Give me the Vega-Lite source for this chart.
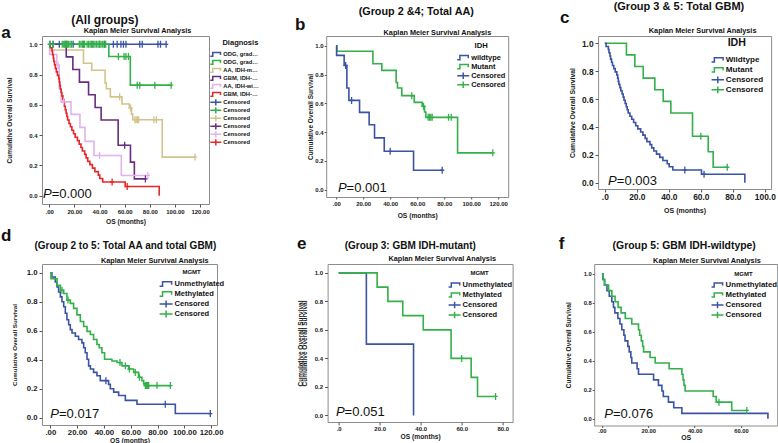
{
"$schema": "https://vega.github.io/schema/vega-lite/v6.json",
"background": "white",
"padding": 0,
"config": {
 "font": "Liberation Sans",
 "view": {"stroke": "#8c8c8c", "strokeWidth": 1},
 "axis": {"grid": false, "domain": false, "tickColor": "#555", "labelColor": "#1a1a1a", "titleColor": "#1a1a1a", "labelFontWeight": "bold", "titleFontWeight": "bold", "labelFont": "Liberation Sans", "titleFont": "Liberation Sans", "labelFlush": false, "labelOverlap": false, "tickCount": 20},
 "legend": {"orient": "none", "padding": 0, "rowPadding": 0, "labelOffset": 1, "labelFontWeight": "bold", "titleFontWeight": "bold", "labelColor": "#111", "titleColor": "#111", "titleAnchor": "middle", "symbolStrokeWidth": 1.5, "labelFont": "Liberation Sans", "titleFont": "Liberation Sans"},
 "text": {"font": "Liberation Sans"}
},
"datasets": {
 "km": [
  {"g":"ODG2","t":0,"s":1},{"g":"ODG2","t":93,"s":1},
  {"g":"ODG3","t":0,"s":1},{"g":"ODG3","t":47.4,"s":0.919},{"g":"ODG3","t":64.5,"s":0.73},{"g":"ODG3","t":97,"s":0.73},
  {"g":"AAmut","t":0,"s":1},{"g":"AAmut","t":0.5,"s":0.962},{"g":"AAmut","t":27.2,"s":0.875},{"g":"AAmut","t":33.8,"s":0.829},{"g":"AAmut","t":44.4,"s":0.745},{"g":"AAmut","t":45.4,"s":0.706},{"g":"AAmut","t":48.6,"s":0.653},{"g":"AAmut","t":57.8,"s":0.606},{"g":"AAmut","t":63.7,"s":0.579},{"g":"AAmut","t":65.4,"s":0.539},{"g":"AAmut","t":66.4,"s":0.502},{"g":"AAmut","t":89.9,"s":0.255},{"g":"AAmut","t":116,"s":0.255},
  {"g":"GBMmut","t":0,"s":1},{"g":"GBMmut","t":13.5,"s":0.917},{"g":"GBMmut","t":18.75,"s":0.833},{"g":"GBMmut","t":24,"s":0.75},{"g":"GBMmut","t":31.25,"s":0.667},{"g":"GBMmut","t":36.5,"s":0.583},{"g":"GBMmut","t":41.25,"s":0.5},{"g":"GBMmut","t":54.8,"s":0.333},{"g":"GBMmut","t":64.6,"s":0.222},{"g":"GBMmut","t":67.7,"s":0.111},{"g":"GBMmut","t":76.5,"s":0.111},
  {"g":"AAwt","t":0,"s":1},{"g":"AAwt","t":0.3,"s":0.933},{"g":"AAwt","t":5.9,"s":0.863},{"g":"AAwt","t":7.9,"s":0.706},{"g":"AAwt","t":9.4,"s":0.62},{"g":"AAwt","t":17.3,"s":0.537},{"g":"AAwt","t":24.4,"s":0.451},{"g":"AAwt","t":28.4,"s":0.359},{"g":"AAwt","t":35.6,"s":0.266},{"g":"AAwt","t":57.3,"s":0.134},{"g":"AAwt","t":78.5,"s":0.134},
  {"g":"GBMwt","t":0,"s":1},{"g":"GBMwt","t":0.8,"s":0.977},{"g":"GBMwt","t":2.2,"s":0.955},{"g":"GBMwt","t":2.6,"s":0.932},{"g":"GBMwt","t":3.2,"s":0.909},{"g":"GBMwt","t":3.6,"s":0.886},{"g":"GBMwt","t":4.2,"s":0.864},{"g":"GBMwt","t":4.8,"s":0.841},{"g":"GBMwt","t":5.6,"s":0.818},{"g":"GBMwt","t":6.5,"s":0.795},{"g":"GBMwt","t":7.5,"s":0.773},{"g":"GBMwt","t":8,"s":0.75},{"g":"GBMwt","t":8.4,"s":0.727},{"g":"GBMwt","t":8.8,"s":0.705},{"g":"GBMwt","t":9.4,"s":0.682},{"g":"GBMwt","t":10,"s":0.659},{"g":"GBMwt","t":10.8,"s":0.636},{"g":"GBMwt","t":11.5,"s":0.614},{"g":"GBMwt","t":12,"s":0.591},{"g":"GBMwt","t":12.7,"s":0.568},{"g":"GBMwt","t":13.4,"s":0.545},{"g":"GBMwt","t":14,"s":0.523},{"g":"GBMwt","t":14.6,"s":0.5},{"g":"GBMwt","t":15.7,"s":0.477},{"g":"GBMwt","t":16.8,"s":0.455},{"g":"GBMwt","t":18,"s":0.432},{"g":"GBMwt","t":19.3,"s":0.409},{"g":"GBMwt","t":20.6,"s":0.386},{"g":"GBMwt","t":22.4,"s":0.364},{"g":"GBMwt","t":23.8,"s":0.341},{"g":"GBMwt","t":25.2,"s":0.318},{"g":"GBMwt","t":26.3,"s":0.295},{"g":"GBMwt","t":28.2,"s":0.273},{"g":"GBMwt","t":29.3,"s":0.25},{"g":"GBMwt","t":30.6,"s":0.227},{"g":"GBMwt","t":32.3,"s":0.205},{"g":"GBMwt","t":34.3,"s":0.182},{"g":"GBMwt","t":36.3,"s":0.159},{"g":"GBMwt","t":39,"s":0.136},{"g":"GBMwt","t":40.2,"s":0.114},{"g":"GBMwt","t":42.5,"s":0.091},{"g":"GBMwt","t":60.4,"s":0.061},{"g":"GBMwt","t":87.5,"s":0},
  {"g":"dU","t":0,"s":1},{"g":"dU","t":1.2,"s":0.971},{"g":"dU","t":3.7,"s":0.937},{"g":"dU","t":5,"s":0.902},{"g":"dU","t":6.2,"s":0.868},{"g":"dU","t":7.5,"s":0.834},{"g":"dU","t":8.7,"s":0.8},{"g":"dU","t":10,"s":0.766},{"g":"dU","t":11.2,"s":0.721},{"g":"dU","t":12.4,"s":0.676},{"g":"dU","t":13.7,"s":0.642},{"g":"dU","t":14.9,"s":0.608},{"g":"dU","t":16.2,"s":0.585},{"g":"dU","t":18.7,"s":0.562},{"g":"dU","t":21.1,"s":0.54},{"g":"dU","t":23.6,"s":0.517},{"g":"dU","t":24.9,"s":0.483},{"g":"dU","t":26.1,"s":0.449},{"g":"dU","t":27.4,"s":0.404},{"g":"dU","t":28.6,"s":0.358},{"g":"dU","t":29.9,"s":0.336},{"g":"dU","t":32.3,"s":0.313},{"g":"dU","t":34.8,"s":0.29},{"g":"dU","t":37.3,"s":0.256},{"g":"dU","t":43.5,"s":0.23},{"g":"dU","t":44.8,"s":0.2},{"g":"dU","t":47.3,"s":0.177},{"g":"dU","t":51,"s":0.154},{"g":"dU","t":56,"s":0.12},{"g":"dU","t":64.7,"s":0.093},{"g":"dU","t":93.3,"s":0.029},{"g":"dU","t":119.4,"s":0.029},
  {"g":"dM","t":0,"s":1},{"g":"dM","t":0.5,"s":0.959},{"g":"dM","t":5,"s":0.914},{"g":"dM","t":7.5,"s":0.88},{"g":"dM","t":10,"s":0.857},{"g":"dM","t":12.4,"s":0.812},{"g":"dM","t":14.9,"s":0.789},{"g":"dM","t":17.4,"s":0.755},{"g":"dM","t":19.9,"s":0.71},{"g":"dM","t":22.4,"s":0.664},{"g":"dM","t":24.9,"s":0.63},{"g":"dM","t":27.4,"s":0.596},{"g":"dM","t":29.9,"s":0.574},{"g":"dM","t":32.3,"s":0.54},{"g":"dM","t":34.8,"s":0.506},{"g":"dM","t":36.5,"s":0.483},{"g":"dM","t":38.5,"s":0.449},{"g":"dM","t":40.5,"s":0.404},{"g":"dM","t":46,"s":0.392},{"g":"dM","t":49.8,"s":0.381},{"g":"dM","t":53.5,"s":0.358},{"g":"dM","t":58.5,"s":0.336},{"g":"dM","t":62.2,"s":0.313},{"g":"dM","t":65.9,"s":0.279},{"g":"dM","t":68.4,"s":0.256},{"g":"dM","t":69.7,"s":0.234},{"g":"dM","t":70.9,"s":0.222},{"g":"dM","t":89.6,"s":0.222},
  {"g":"eU","t":0,"s":1},{"g":"eU","t":13.5,"s":0.5},{"g":"eU","t":36.5,"s":0},
  {"g":"eM","t":0,"s":1},{"g":"eM","t":18.75,"s":0.9},{"g":"eM","t":24,"s":0.8},{"g":"eM","t":31.25,"s":0.7},{"g":"eM","t":41.25,"s":0.6},{"g":"eM","t":54.8,"s":0.4},{"g":"eM","t":64.6,"s":0.267},{"g":"eM","t":67.7,"s":0.133},{"g":"eM","t":76.5,"s":0.133},
  {"g":"fU","t":0,"s":1},{"g":"fU","t":0.5,"s":0.962},{"g":"fU","t":1.2,"s":0.923},{"g":"fU","t":2.2,"s":0.885},{"g":"fU","t":3.2,"s":0.846},{"g":"fU","t":4.3,"s":0.808},{"g":"fU","t":5,"s":0.769},{"g":"fU","t":5.6,"s":0.731},{"g":"fU","t":6.9,"s":0.692},{"g":"fU","t":7.8,"s":0.654},{"g":"fU","t":8.6,"s":0.615},{"g":"fU","t":9.5,"s":0.577},{"g":"fU","t":10,"s":0.538},{"g":"fU","t":11.2,"s":0.5},{"g":"fU","t":11.8,"s":0.462},{"g":"fU","t":12.5,"s":0.423},{"g":"fU","t":12.9,"s":0.385},{"g":"fU","t":15.2,"s":0.346},{"g":"fU","t":15.8,"s":0.308},{"g":"fU","t":22.3,"s":0.269},{"g":"fU","t":24.4,"s":0.231},{"g":"fU","t":25.9,"s":0.192},{"g":"fU","t":26.5,"s":0.154},{"g":"fU","t":28.7,"s":0.115},{"g":"fU","t":31,"s":0.077},{"g":"fU","t":34.5,"s":0.038},{"g":"fU","t":71.6,"s":0},
  {"g":"fM","t":0,"s":1},{"g":"fM","t":0.5,"s":0.962},{"g":"fM","t":1.1,"s":0.923},{"g":"fM","t":2.9,"s":0.885},{"g":"fM","t":4.3,"s":0.846},{"g":"fM","t":5.7,"s":0.808},{"g":"fM","t":7,"s":0.769},{"g":"fM","t":8.3,"s":0.731},{"g":"fM","t":10.1,"s":0.692},{"g":"fM","t":12.9,"s":0.654},{"g":"fM","t":15.8,"s":0.615},{"g":"fM","t":16.3,"s":0.577},{"g":"fM","t":17,"s":0.538},{"g":"fM","t":17.6,"s":0.5},{"g":"fM","t":18,"s":0.462},{"g":"fM","t":20.8,"s":0.423},{"g":"fM","t":23,"s":0.385},{"g":"fM","t":29,"s":0.346},{"g":"fM","t":34.5,"s":0.308},{"g":"fM","t":35,"s":0.269},{"g":"fM","t":35.4,"s":0.231},{"g":"fM","t":35.9,"s":0.192},{"g":"fM","t":48,"s":0.154},{"g":"fM","t":49.3,"s":0.115},{"g":"fM","t":56,"s":0.058},{"g":"fM","t":62.5,"s":0.058}
 ],
 "cens": [
  {"cg":"cODG2","t":0.5,"s":1},{"cg":"cODG2","t":3,"s":1},{"cg":"cODG2","t":8,"s":1},{"cg":"cODG2","t":14,"s":1},{"cg":"cODG2","t":19,"s":1},{"cg":"cODG2","t":27,"s":1},{"cg":"cODG2","t":34,"s":1},{"cg":"cODG2","t":40,"s":1},{"cg":"cODG2","t":44,"s":1},{"cg":"cODG2","t":51,"s":1},{"cg":"cODG2","t":54,"s":1},{"cg":"cODG2","t":57,"s":1},{"cg":"cODG2","t":59,"s":1},{"cg":"cODG2","t":61,"s":1},{"cg":"cODG2","t":72,"s":1},{"cg":"cODG2","t":74,"s":1},{"cg":"cODG2","t":86.5,"s":1},{"cg":"cODG2","t":88.5,"s":1},{"cg":"cODG2","t":93,"s":1},
  {"cg":"cODG3","t":0.4,"s":1},{"cg":"cODG3","t":3,"s":1},{"cg":"cODG3","t":10.3,"s":1},{"cg":"cODG3","t":11.5,"s":1},{"cg":"cODG3","t":12.3,"s":1},{"cg":"cODG3","t":12.8,"s":1},{"cg":"cODG3","t":13.5,"s":1},{"cg":"cODG3","t":14,"s":1},{"cg":"cODG3","t":15.2,"s":1},{"cg":"cODG3","t":16.5,"s":1},{"cg":"cODG3","t":17.7,"s":1},{"cg":"cODG3","t":23.9,"s":1},{"cg":"cODG3","t":25.2,"s":1},{"cg":"cODG3","t":26.4,"s":1},{"cg":"cODG3","t":27.6,"s":1},{"cg":"cODG3","t":28.1,"s":1},{"cg":"cODG3","t":30.1,"s":1},{"cg":"cODG3","t":31.3,"s":1},{"cg":"cODG3","t":32.5,"s":1},{"cg":"cODG3","t":33.8,"s":1},{"cg":"cODG3","t":35,"s":1},{"cg":"cODG3","t":36.3,"s":1},{"cg":"cODG3","t":37.5,"s":1},{"cg":"cODG3","t":38.8,"s":1},{"cg":"cODG3","t":40,"s":1},{"cg":"cODG3","t":41.2,"s":1},{"cg":"cODG3","t":42.5,"s":1},{"cg":"cODG3","t":43.6,"s":1},{"cg":"cODG3","t":44.9,"s":1},{"cg":"cODG3","t":55,"s":0.919},{"cg":"cODG3","t":59.5,"s":0.919},{"cg":"cODG3","t":61,"s":0.919},{"cg":"cODG3","t":63,"s":0.919},{"cg":"cODG3","t":70,"s":0.73},{"cg":"cODG3","t":72,"s":0.73},{"cg":"cODG3","t":84,"s":0.73},{"cg":"cODG3","t":97,"s":0.73},
  {"cg":"cAAmut","t":56,"s":0.653},{"cg":"cAAmut","t":64.7,"s":0.579},{"cg":"cAAmut","t":68.1,"s":0.502},{"cg":"cAAmut","t":69.1,"s":0.502},{"cg":"cAAmut","t":70.1,"s":0.502},{"cg":"cAAmut","t":71.1,"s":0.502},{"cg":"cAAmut","t":83.2,"s":0.502},{"cg":"cAAmut","t":85.2,"s":0.502},{"cg":"cAAmut","t":116,"s":0.255},
  {"cg":"cAAwt","t":7,"s":0.863},{"cg":"cAAwt","t":11.4,"s":0.62},{"cg":"cAAwt","t":40,"s":0.266},{"cg":"cAAwt","t":78.5,"s":0.134},
  {"cg":"cGBMmut","t":60,"s":0.333},{"cg":"cGBMmut","t":76.5,"s":0.111},
  {"cg":"cGBMwt","t":50,"s":0.091},{"cg":"cGBMwt","t":62,"s":0.061},
  {"cg":"cdU","t":41.5,"s":0.256},{"cg":"cdU","t":85.8,"s":0.093},{"cg":"cdU","t":119.4,"s":0.029},
  {"cg":"cdM","t":8.7,"s":0.88},{"cg":"cdM","t":13.2,"s":0.812},{"cg":"cdM","t":52,"s":0.381},{"cg":"cdM","t":56,"s":0.358},{"cg":"cdM","t":59,"s":0.336},{"cg":"cdM","t":63.4,"s":0.313},{"cg":"cdM","t":66.5,"s":0.279},{"cg":"cdM","t":71,"s":0.222},{"cg":"cdM","t":71.8,"s":0.222},{"cg":"cdM","t":72.6,"s":0.222},{"cg":"cdM","t":73.4,"s":0.222},{"cg":"cdM","t":79.6,"s":0.222},{"cg":"cdM","t":89.6,"s":0.222},
  {"cg":"ceM","t":60,"s":0.4},{"cg":"ceM","t":76.5,"s":0.133},
  {"cg":"cfM","t":50.5,"s":0.115},{"cg":"cfM","t":62.5,"s":0.058}
 ]
},
"columns": 1,
"align": "none",
"spacing": 0,
"resolve": {"scale": {"color": "independent"}, "legend": {"color": "independent"}},
"concat": [
 {"columns": 2, "align": "none", "spacing": 34.2, "resolve": {"scale": {"color": "independent"}, "legend": {"color": "independent"}}, "concat": [
  {"width": 167, "height": 168, "layer": [
   {"data": {"name": "km"}, "transform": [{"filter": {"field": "g", "oneOf": ["ODG2","ODG3","AAmut","GBMmut","AAwt","GBMwt"]}}],
    "mark": {"type": "line", "interpolate": "step-after", "strokeWidth": 1.6},
    "encoding": {
     "x": {"field": "t", "type": "quantitative", "scale": {"domain": [-5.8, 127.1], "nice": false, "zero": false},
      "axis": {"values": [0,20,40,60,80,100,120], "tickCount": 20, "labelOverlap": false, "labelExpr": "datum.value == 0 ? '.00' : format(datum.value, '.2f')", "title": "OS (months)", "labelFontSize": 6, "titleFontSize": 6.7, "tickSize": 3, "labelPadding": 1, "titlePadding": 4.75}},
     "y": {"field": "s", "type": "quantitative", "scale": {"domain": [-0.0547, 1.0547], "nice": false, "zero": false},
      "axis": {"values": [0,0.2,0.4,0.6,0.8,1], "tickCount": 20, "labelOverlap": false, "format": ".1f", "title": "Cumulative Overall Survival", "labelFontSize": 6, "titleFontSize": 6.5, "tickSize": 3, "labelPadding": 2, "titlePadding": 16.5}},
     "color": {"field": "g", "type": "nominal",
      "scale": {"domain": ["ODG2","ODG3","AAmut","GBMmut","AAwt","GBMwt","cODG2","cODG3","cAAmut","cGBMmut","cAAwt","cGBMwt"], "range": ["#3a53a4","#34b04a","#d2c38c","#6b2b80","#e1b3ee","#e8262a","#3a53a4","#34b04a","#d2c38c","#6b2b80","#e1b3ee","#e8262a"]},
      "legend": {"title": "Diagnosis", "titleFontSize": 7.5, "titleAnchor": "end", "titlePadding": 4.2, "labelFontSize": 5.8, "symbolSize": 121, "clipHeight": 7.64, "labelLimit": 36, "titleLimit": 40, "legendX": 167.3, "legendY": 2.85,
       "labelExpr": "datum.value == 'ODG2' ? 'ODG, grade II' : datum.value == 'ODG3' ? 'ODG, grade III' : datum.value == 'AAmut' ? 'AA, IDH-mutant' : datum.value == 'GBMmut' ? 'GBM, IDH-mutant' : datum.value == 'AAwt' ? 'AA, IDH-wildtype' : datum.value == 'GBMwt' ? 'GBM, IDH-wildtype' : 'Censored'",
       "encode": {"symbols": {"update": {"shape": {"signal": "indexof(datum.value, 'c') === 0 ? 'M-1,0H1M0,-0.55V0.55' : 'M-1,0.35H-0.55V-0.35H0.85V0.1'"}, "fill": {"value": "transparent"}, "strokeWidth": {"value": 1.5}}}}}}
    }},
   {"data": {"name": "cens"}, "transform": [{"filter": {"field": "cg", "oneOf": ["cODG2","cODG3","cAAmut","cGBMmut","cAAwt","cGBMwt"]}}],
    "mark": {"type": "point", "shape": "M-0.6,0H0.6M0,-1V1", "filled": false, "size": 49, "strokeWidth": 1.3, "opacity": 1},
    "encoding": {"x": {"field": "t", "type": "quantitative"}, "y": {"field": "s", "type": "quantitative"}, "color": {"field": "cg", "type": "nominal"}}},
   {"data": {"values": [{}]}, "mark": {"type": "text", "text": "a", "fontSize": 17, "fontWeight": "bold", "align": "center", "baseline": "alphabetic", "color": "#111"}, "encoding": {"x": {"datum": -34.4}, "y": {"datum": 1.044}}},
   {"data": {"values": [{}]}, "mark": {"type": "text", "text": "(All groups)", "fontSize": 12, "fontWeight": "bold", "align": "left", "baseline": "alphabetic", "color": "#111"}, "encoding": {"x": {"datum": 17.4}, "y": {"datum": 1.1318}}},
   {"data": {"values": [{}]}, "mark": {"type": "text", "text": "Kaplan Meier Survival Analysis", "fontSize": 7.3, "fontWeight": "bold", "align": "right", "baseline": "alphabetic", "color": "#111"}, "encoding": {"x": {"datum": 113}, "y": {"datum": 1.075}}},
   {"data": {"values": [{}]}, "mark": {"type": "text", "text": "P", "fontSize": 13, "fontStyle": "italic", "align": "left", "baseline": "alphabetic", "color": "#111"}, "encoding": {"x": {"datum": -5.0}, "y": {"datum": -0.015}}},
   {"data": {"values": [{}]}, "mark": {"type": "text", "text": "=0.000", "fontSize": 13, "align": "left", "baseline": "alphabetic", "color": "#111"}, "encoding": {"x": {"datum": 1.9}, "y": {"datum": -0.015}}}
  ]},
  {"columns": 2, "align": "none", "spacing": 49.9, "resolve": {"scale": {"color": "independent"}, "legend": {"color": "independent"}}, "concat": [
   {"width": 182, "height": 161, "layer": [
    {"data": {"name": "km"}, "transform": [{"filter": {"field": "g", "oneOf": ["AAwt","AAmut"]}}],
     "mark": {"type": "line", "interpolate": "step-after", "strokeWidth": 1.6},
     "encoding": {
      "x": {"field": "t", "type": "quantitative", "scale": {"domain": [-7.4, 127.4], "nice": false, "zero": false},
       "axis": {"values": [0,20,40,60,80,100,120], "tickCount": 20, "labelOverlap": false, "labelExpr": "datum.value == 0 ? '.00' : format(datum.value, '.2f')", "title": "OS (months)", "labelFontSize": 6, "titleFontSize": 6.7, "tickSize": 2, "labelPadding": 1, "titlePadding": 6.5}},
      "y": {"field": "s", "type": "quantitative", "scale": {"domain": [-0.052, 1.068], "nice": false, "zero": false},
       "axis": {"values": [0,0.2,0.4,0.6,0.8,1], "tickCount": 20, "labelOverlap": false, "format": ".1f", "title": "Cumulative Overall Survival", "labelFontSize": 6, "titleFontSize": 6.5, "tickSize": 2, "labelPadding": 1, "titlePadding": 1.8}},
      "color": {"field": "g", "type": "nominal",
       "scale": {"domain": ["AAwt","AAmut","cAAwt","cAAmut"], "range": ["#3a53a4","#34b04a","#3a53a4","#34b04a"]},
       "legend": {"title": "IDH", "titleFontSize": 7.7, "titlePadding": 4, "labelFontSize": 7.4, "symbolSize": 144, "clipHeight": 8.5, "legendX": 130, "legendY": 5.75,
        "labelExpr": "datum.value == 'AAwt' ? ' wildtype' : datum.value == 'AAmut' ? 'Mutant' : 'Censored'",
        "encode": {"symbols": {"update": {"shape": {"signal": "indexof(datum.value, 'c') === 0 ? 'M-1,0H1M0,-0.55V0.55' : 'M-1,0.35H-0.55V-0.35H0.85V0.1'"}, "fill": {"value": "transparent"}, "strokeWidth": {"value": 1.5}}}}}}
     }},
    {"data": {"name": "cens"}, "transform": [{"filter": {"field": "cg", "oneOf": ["cAAwt","cAAmut"]}}],
     "mark": {"type": "point", "shape": "M-0.6,0H0.6M0,-1V1", "filled": false, "size": 49, "strokeWidth": 1.3, "opacity": 1},
     "encoding": {"x": {"field": "t", "type": "quantitative"}, "y": {"field": "s", "type": "quantitative"}, "color": {"field": "cg", "type": "nominal"}}},
    {"data": {"values": [{}]}, "mark": {"type": "text", "text": "b", "fontSize": 17, "fontWeight": "bold", "align": "center", "baseline": "alphabetic", "color": "#111"}, "encoding": {"x": {"datum": -26.7}, "y": {"datum": 1.111}}},
    {"data": {"values": [{}]}, "mark": {"type": "text", "text": "(Group 2 &4; Total AA)", "fontSize": 10.8, "fontWeight": "bold", "align": "center", "baseline": "alphabetic", "color": "#111"}, "encoding": {"x": {"datum": 59.3}, "y": {"datum": 1.211}}},
    {"data": {"values": [{}]}, "mark": {"type": "text", "text": "Kaplan Meier Survival Analysis", "fontSize": 7.3, "fontWeight": "bold", "align": "right", "baseline": "alphabetic", "color": "#111"}, "encoding": {"x": {"datum": 114.8}, "y": {"datum": 1.074}}},
    {"data": {"values": [{}]}, "mark": {"type": "text", "text": "P", "fontSize": 13, "fontStyle": "italic", "align": "left", "baseline": "alphabetic", "color": "#111"}, "encoding": {"x": {"datum": 1.26}, "y": {"datum": -0.014}}},
    {"data": {"values": [{}]}, "mark": {"type": "text", "text": "=0.001", "fontSize": 13, "align": "left", "baseline": "alphabetic", "color": "#111"}, "encoding": {"x": {"datum": 7.7}, "y": {"datum": -0.014}}}
   ]},
   {"width": 173, "height": 153, "layer": [
    {"data": {"name": "km"}, "transform": [{"filter": {"field": "g", "oneOf": ["GBMwt","GBMmut"]}}],
     "mark": {"type": "line", "interpolate": "step-after", "strokeWidth": 1.6},
     "encoding": {
      "x": {"field": "t", "type": "quantitative", "scale": {"domain": [-4.2, 103.9], "nice": false, "zero": false},
       "axis": {"values": [0,20,40,60,80,100], "tickCount": 20, "labelOverlap": false, "labelExpr": "datum.value == 0 ? '.0' : format(datum.value, '.1f')", "title": "OS (months)", "labelFontSize": 8.4, "titleFontSize": 7, "tickSize": 3, "labelPadding": 0, "titlePadding": 5.7}},
      "y": {"field": "s", "type": "quantitative", "scale": {"domain": [-0.045, 1.052], "nice": false, "zero": false},
       "axis": {"values": [0,0.2,0.4,0.6,0.8,1], "tickCount": 20, "labelOverlap": false, "format": ".1f", "title": "Cumulative Overall Survival", "labelFontSize": 8.4, "titleFontSize": 6.8, "tickSize": 3, "labelPadding": 2, "titlePadding": 6.3}},
      "color": {"field": "g", "type": "nominal",
       "scale": {"domain": ["GBMwt","GBMmut","cGBMwt","cGBMmut"], "range": ["#3a53a4","#34b04a","#3a53a4","#34b04a"]},
       "legend": {"title": "IDH", "titleFontSize": 10.6, "titlePadding": 6.1, "labelFontSize": 8.1, "symbolSize": 156, "clipHeight": 9.7, "legendX": 112.7, "legendY": 2.3,
        "labelExpr": "datum.value == 'GBMwt' ? 'Wildtype' : datum.value == 'GBMmut' ? 'Mutant' : 'Censored'",
        "encode": {"symbols": {"update": {"shape": {"signal": "indexof(datum.value, 'c') === 0 ? 'M-1,0H1M0,-0.55V0.55' : 'M-1,0.35H-0.55V-0.35H0.85V0.1'"}, "fill": {"value": "transparent"}, "strokeWidth": {"value": 1.5}}}}}}
     }},
    {"data": {"name": "cens"}, "transform": [{"filter": {"field": "cg", "oneOf": ["cGBMwt","cGBMmut"]}}],
     "mark": {"type": "point", "shape": "M-0.6,0H0.6M0,-1V1", "filled": false, "size": 49, "strokeWidth": 1.3, "opacity": 1},
     "encoding": {"x": {"field": "t", "type": "quantitative"}, "y": {"field": "s", "type": "quantitative"}, "color": {"field": "cg", "type": "nominal"}}},
    {"data": {"values": [{}]}, "mark": {"type": "text", "text": "c", "fontSize": 17, "fontWeight": "bold", "align": "center", "baseline": "alphabetic", "color": "#111"}, "encoding": {"x": {"datum": -25.1}, "y": {"datum": 1.147}}},
    {"data": {"values": [{}]}, "mark": {"type": "text", "text": "(Group 3 & 5: Total GBM)", "fontSize": 11, "fontWeight": "bold", "align": "center", "baseline": "alphabetic", "color": "#111"}, "encoding": {"x": {"datum": 46.3}, "y": {"datum": 1.238}}},
    {"data": {"values": [{}]}, "mark": {"type": "text", "text": "Kaplan Meier Survival Analysis", "fontSize": 7.3, "fontWeight": "bold", "align": "right", "baseline": "alphabetic", "color": "#111"}, "encoding": {"x": {"datum": 94.75}, "y": {"datum": 1.074}}},
    {"data": {"values": [{}]}, "mark": {"type": "text", "text": "P", "fontSize": 13, "fontStyle": "italic", "align": "left", "baseline": "alphabetic", "color": "#111"}, "encoding": {"x": {"datum": 2.06}, "y": {"datum": -0.016}}},
    {"data": {"values": [{}]}, "mark": {"type": "text", "text": "=0.003", "fontSize": 13, "align": "left", "baseline": "alphabetic", "color": "#111"}, "encoding": {"x": {"datum": 7.5}, "y": {"datum": -0.016}}}
   ]}
  ]}
 ]},
 {"spacing": 43.6, "resolve": {"scale": {"color": "independent"}, "legend": {"color": "independent"}}, "hconcat": [
  {"width": 175, "height": 161, "layer": [
   {"data": {"name": "km"}, "transform": [{"filter": {"field": "g", "oneOf": ["dU","dM"]}}],
    "mark": {"type": "line", "interpolate": "step-after", "strokeWidth": 1.6},
    "encoding": {
     "x": {"field": "t", "type": "quantitative", "scale": {"domain": [-6.2, 124.4], "nice": false, "zero": false},
      "axis": {"values": [0,20,40,60,80,100,120], "tickCount": 20, "labelOverlap": false, "labelExpr": "datum.value == 0 ? '.00' : format(datum.value, '.2f')", "title": "OS (months)", "labelFontSize": 7.8, "titleFontSize": 6.7, "tickSize": 3, "labelPadding": 0.4, "titlePadding": 1.5}},
     "y": {"field": "s", "type": "quantitative", "scale": {"domain": [-0.05, 1.061], "nice": false, "zero": false},
      "axis": {"values": [0,0.2,0.4,0.6,0.8,1], "tickCount": 20, "labelOverlap": false, "format": ".1f", "title": "Cumulative Overall Survival", "labelFontSize": 7.8, "titleFontSize": 6.2, "tickSize": 3, "labelPadding": 2, "titlePadding": 8.4}},
     "color": {"field": "g", "type": "nominal",
      "scale": {"domain": ["dU","dM","cdU","cdM"], "range": ["#3a53a4","#34b04a","#3a53a4","#34b04a"]},
      "legend": {"title": "MGMT", "titleFontSize": 6, "titlePadding": 4, "labelFontSize": 7.5, "symbolSize": 169, "clipHeight": 9.2, "padding": 26.7, "legendX": 89.9, "legendY": -21.3,
       "labelExpr": "datum.value == 'dU' ? 'Unmethylated' : datum.value == 'dM' ? 'Methylated' : 'Censored'",
       "encode": {"symbols": {"update": {"shape": {"signal": "indexof(datum.value, 'c') === 0 ? 'M-1,0H1M0,-0.55V0.55' : 'M-1,0.35H-0.55V-0.35H0.85V0.1'"}, "fill": {"value": "transparent"}, "strokeWidth": {"value": 1.5}}}}}}
    }},
   {"data": {"name": "cens"}, "transform": [{"filter": {"field": "cg", "oneOf": ["cdU","cdM"]}}],
    "mark": {"type": "point", "shape": "M-0.6,0H0.6M0,-1V1", "filled": false, "size": 49, "strokeWidth": 1.3, "opacity": 1},
    "encoding": {"x": {"field": "t", "type": "quantitative"}, "y": {"field": "s", "type": "quantitative"}, "color": {"field": "cg", "type": "nominal"}}},
   {"data": {"values": [{}]}, "mark": {"type": "text", "text": "d", "fontSize": 17, "fontWeight": "bold", "align": "center", "baseline": "alphabetic", "color": "#111"}, "encoding": {"x": {"datum": -33}, "y": {"datum": 1.22}}},
   {"data": {"values": [{}]}, "mark": {"type": "text", "text": "(Group 2 to 5: Total AA and total GBM)", "fontSize": 10, "fontWeight": "bold", "align": "center", "baseline": "alphabetic", "color": "#111"}, "encoding": {"x": {"datum": 56}, "y": {"datum": 1.165}}},
   {"data": {"values": [{}]}, "mark": {"type": "text", "text": "Kaplan Meier Survival Analysis", "fontSize": 7.3, "fontWeight": "bold", "align": "right", "baseline": "alphabetic", "color": "#111"}, "encoding": {"x": {"datum": 118.1}, "y": {"datum": 1.071}}},
   {"data": {"values": [{}]}, "mark": {"type": "text", "text": "P", "fontSize": 13, "fontStyle": "italic", "align": "left", "baseline": "alphabetic", "color": "#111"}, "encoding": {"x": {"datum": 0}, "y": {"datum": -0.005}}},
   {"data": {"values": [{}]}, "mark": {"type": "text", "text": "=0.017", "fontSize": 13, "align": "left", "baseline": "alphabetic", "color": "#111"}, "encoding": {"x": {"datum": 6.5}, "y": {"datum": -0.005}}}
  ]},
  {"width": 185, "height": 158, "layer": [
   {"data": {"name": "km"}, "transform": [{"filter": {"field": "g", "oneOf": ["eU","eM"]}}],
    "mark": {"type": "line", "interpolate": "step-after", "strokeWidth": 1.6},
    "encoding": {
     "x": {"field": "t", "type": "quantitative", "scale": {"domain": [-5.4, 84.8], "nice": false, "zero": false},
      "axis": {"values": [0,20,40,60,80], "tickCount": 20, "labelOverlap": false, "labelExpr": "datum.value == 0 ? '.0' : format(datum.value, '.1f')", "title": "OS (months)", "labelFontSize": 6, "titleFontSize": 6.7, "tickSize": 3, "labelPadding": 0.7, "titlePadding": 1.5}},
     "y": {"field": "s", "type": "quantitative", "scale": {"domain": [-0.046, 1.062], "nice": false, "zero": false},
      "axis": {"values": [0,0.2,0.4,0.6,0.8,1], "tickCount": 20, "labelOverlap": false, "format": ".1f", "title": ["Cumulative Overall Survival", "Cumulative Overall Survival"], "titleLineHeight": 4.5, "labelFontSize": 6, "titleFontSize": 6.5, "tickSize": 3, "labelPadding": 2, "titlePadding": 6.5}},
     "color": {"field": "g", "type": "nominal",
      "scale": {"domain": ["eU","eM","ceU","ceM"], "range": ["#3a53a4","#34b04a","#3a53a4","#34b04a"]},
      "legend": {"title": "MGMT", "titleFontSize": 6, "titlePadding": 4.15, "labelFontSize": 7.5, "symbolSize": 144, "clipHeight": 9.7, "legendX": 120, "legendY": 6,
       "labelExpr": "datum.value == 'eU' ? 'Unmethylated' : datum.value == 'eM' ? 'Methylated' : 'Censored'",
       "encode": {"symbols": {"update": {"shape": {"signal": "indexof(datum.value, 'c') === 0 ? 'M-1,0H1M0,-0.55V0.55' : 'M-1,0.35H-0.55V-0.35H0.85V0.1'"}, "fill": {"value": "transparent"}, "strokeWidth": {"value": 1.5}}}}}}
    }},
   {"data": {"name": "cens"}, "transform": [{"filter": {"field": "cg", "oneOf": ["ceU","ceM"]}}],
    "mark": {"type": "point", "shape": "M-0.6,0H0.6M0,-1V1", "filled": false, "size": 49, "strokeWidth": 1.3, "opacity": 1},
    "encoding": {"x": {"field": "t", "type": "quantitative"}, "y": {"field": "s", "type": "quantitative"}, "color": {"field": "cg", "type": "nominal"}}},
   {"data": {"values": [{}]}, "mark": {"type": "text", "text": "e", "fontSize": 17, "fontWeight": "bold", "align": "center", "baseline": "alphabetic", "color": "#111"}, "encoding": {"x": {"datum": -18}, "y": {"datum": 1.166}}},
   {"data": {"values": [{}]}, "mark": {"type": "text", "text": "(Group 3: GBM IDH-mutant)", "fontSize": 10, "fontWeight": "bold", "align": "center", "baseline": "alphabetic", "color": "#111"}, "encoding": {"x": {"datum": 34.9}, "y": {"datum": 1.168}}},
   {"data": {"values": [{}]}, "mark": {"type": "text", "text": "Kaplan Meier Survival Analysis", "fontSize": 7.3, "fontWeight": "bold", "align": "right", "baseline": "alphabetic", "color": "#111"}, "encoding": {"x": {"datum": 76.7}, "y": {"datum": 1.083}}},
   {"data": {"values": [{}]}, "mark": {"type": "text", "text": "P", "fontSize": 13, "fontStyle": "italic", "align": "left", "baseline": "alphabetic", "color": "#111"}, "encoding": {"x": {"datum": -1.3}, "y": {"datum": -0.007}}},
   {"data": {"values": [{}]}, "mark": {"type": "text", "text": "=0.051", "fontSize": 13, "align": "left", "baseline": "alphabetic", "color": "#111"}, "encoding": {"x": {"datum": 2.9}, "y": {"datum": -0.007}}}
  ]},
  {"width": 183, "height": 161.5, "layer": [
   {"data": {"name": "km"}, "transform": [{"filter": {"field": "g", "oneOf": ["fU","fM"]}}],
    "mark": {"type": "line", "interpolate": "step-after", "strokeWidth": 1.6},
    "encoding": {
     "x": {"field": "t", "type": "quantitative", "scale": {"domain": [-3.3, 75.6], "nice": false, "zero": false},
      "axis": {"values": [0,20,40,60], "tickCount": 20, "labelOverlap": false, "labelExpr": "datum.value == 0 ? '.00' : format(datum.value, '.2f')", "title": "OS", "labelFontSize": 5.8, "titleFontSize": 6.9, "tickSize": 2, "labelPadding": 0, "titlePadding": 1.5}},
     "y": {"field": "s", "type": "quantitative", "scale": {"domain": [-0.046, 1.0686], "nice": false, "zero": false},
      "axis": {"values": [0,0.2,0.4,0.6,0.8,1], "tickCount": 20, "labelOverlap": false, "format": ".1f", "title": "Cumulative Overall Survival", "labelFontSize": 5.8, "titleFontSize": 6.5, "tickSize": 2, "labelPadding": 1, "titlePadding": 12}},
     "color": {"field": "g", "type": "nominal",
      "scale": {"domain": ["fU","fM","cfU","cfM"], "range": ["#3a53a4","#34b04a","#3a53a4","#34b04a"]},
      "legend": {"title": "MGMT", "titleFontSize": 6, "titlePadding": 3.45, "labelFontSize": 7.8, "symbolSize": 144, "clipHeight": 9.1, "legendX": 116.3, "legendY": 7.0,
       "labelExpr": "datum.value == 'fU' ? 'Unmethylated' : datum.value == 'fM' ? 'Methylated' : 'Censored'",
       "encode": {"symbols": {"update": {"shape": {"signal": "indexof(datum.value, 'c') === 0 ? 'M-1,0H1M0,-0.55V0.55' : 'M-1,0.35H-0.55V-0.35H0.85V0.1'"}, "fill": {"value": "transparent"}, "strokeWidth": {"value": 1.5}}}}}}
    }},
   {"data": {"name": "cens"}, "transform": [{"filter": {"field": "cg", "oneOf": ["cfU","cfM"]}}],
    "mark": {"type": "point", "shape": "M-0.6,0H0.6M0,-1V1", "filled": false, "size": 49, "strokeWidth": 1.3, "opacity": 1},
    "encoding": {"x": {"field": "t", "type": "quantitative"}, "y": {"field": "s", "type": "quantitative"}, "color": {"field": "cg", "type": "nominal"}}},
   {"data": {"values": [{}]}, "mark": {"type": "text", "text": "f", "fontSize": 17, "fontWeight": "bold", "align": "center", "baseline": "alphabetic", "color": "#111"}, "encoding": {"x": {"datum": -17.4}, "y": {"datum": 1.17}}},
   {"data": {"values": [{}]}, "mark": {"type": "text", "text": "(Group 5: GBM IDH-wildtype)", "fontSize": 10.4, "fontWeight": "bold", "align": "center", "baseline": "alphabetic", "color": "#111"}, "encoding": {"x": {"datum": 35.5}, "y": {"datum": 1.172}}},
   {"data": {"values": [{}]}, "mark": {"type": "text", "text": "Kaplan Meier Survival Analysis", "fontSize": 7.3, "fontWeight": "bold", "align": "right", "baseline": "alphabetic", "color": "#111"}, "encoding": {"x": {"datum": 68.5}, "y": {"datum": 1.078}}},
   {"data": {"values": [{}]}, "mark": {"type": "text", "text": "P", "fontSize": 13, "fontStyle": "italic", "align": "left", "baseline": "alphabetic", "color": "#111"}, "encoding": {"x": {"datum": 1.0}, "y": {"datum": 0.005}}},
   {"data": {"values": [{}]}, "mark": {"type": "text", "text": "=0.076", "fontSize": 13, "align": "left", "baseline": "alphabetic", "color": "#111"}, "encoding": {"x": {"datum": 4.8}, "y": {"datum": 0.005}}}
  ]}
 ]}
]
}
